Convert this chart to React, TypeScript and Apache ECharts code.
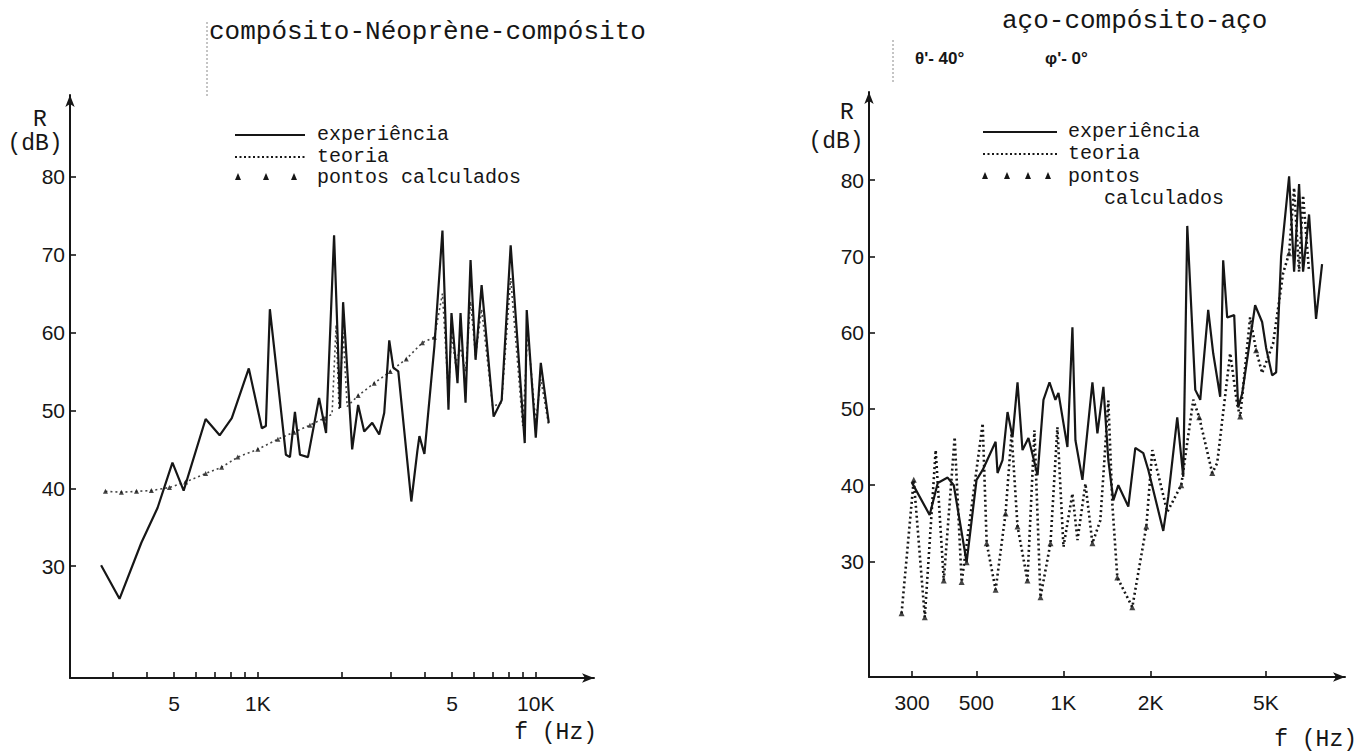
import React, { useEffect, useRef } from "react";
import * as echarts from "echarts";

// ---------- Left chart: compósito-Néoprène-compósito ----------
const leftExpFreq = [273, 318, 381, 436, 493, 541, 649, 729, 806, 928, 1034, 1069, 1105, 1262, 1305, 1360, 1418, 1515, 1661, 1760, 1881, 1977, 2027, 2185, 2296, 2414, 2580, 2734, 2850, 2971, 3072, 3202, 3567, 3750, 3814, 3975, 4319, 4616, 4852, 4975, 5229, 5362, 5589, 5826, 6073, 6385, 7053, 7539, 8123, 9127, 9279, 10000, 10425, 11140];
const leftExpDb = [30.1, 25.8, 33.0, 37.5, 43.3, 39.7, 48.9, 46.8, 49.0, 55.4, 47.7, 48.0, 63.0, 44.3, 44.0, 49.8, 44.3, 44.0, 51.6, 47.1, 72.5, 50.3, 63.9, 45.0, 50.7, 47.3, 48.4, 46.9, 49.7, 59.0, 55.5, 55.0, 38.3, 44.8, 46.7, 44.4, 58.3, 73.1, 50.1, 62.5, 53.5, 62.5, 51.0, 69.3, 56.5, 66.1, 49.2, 51.3, 71.2, 45.8, 62.9, 46.5, 56.1, 48.4];

const leftTheoFreq = [283, 323, 366, 414, 481, 550, 649, 741, 847, 1000, 1181, 1349, 1540, 1730, 1850, 1913, 1961, 2027, 2096, 2296, 2623, 2996, 3421, 3909, 4319, 4616, 4852, 4975, 5143, 5362, 5589, 5826, 6073, 6385, 6995, 7539, 8123, 8976, 9357, 10000, 10425, 11140];
const leftTheoDb = [39.6, 39.5, 39.6, 39.7, 40.1, 40.8, 41.9, 42.7, 44.0, 45.0, 46.3, 47.2, 48.1, 49.0, 49.5, 61.0, 50.0, 60.0, 50.5, 51.9, 53.5, 55.0, 56.6, 58.7, 59.4, 65.0, 52.0, 60.0, 56.0, 58.0, 55.0, 64.0, 57.0, 63.0, 50.5, 51.0, 67.0, 48.0, 60.0, 48.5, 54.0, 48.0];

const leftCalcFreq = [283, 323, 366, 414, 481, 550, 649, 741, 847, 1000, 1181, 1349, 1540, 1730, 2296, 2623, 2996, 3421, 3909, 4319];
const leftCalcDb = [39.6, 39.5, 39.6, 39.7, 40.1, 40.8, 41.9, 42.7, 44.0, 45.0, 46.3, 47.2, 48.1, 49.0, 51.9, 53.5, 55.0, 56.6, 58.7, 59.4];

const leftTickFreq = [300, 400, 500, 600, 700, 800, 900, 1000, 2000, 3000, 4000, 5000, 6000, 7000, 8000, 9000, 10000];
const leftLabelFreq = [500, 1000, 5000, 10000];
const leftLabelText = ["5", "1K", "5", "10K"];

// ---------- Right chart: aço-compósito-aço ----------
const rightExpFreq = [299, 345, 368, 398, 418, 463, 501, 526, 583, 592, 616, 641, 667, 694, 722, 757, 814, 853, 895, 938, 961, 1032, 1074, 1100, 1163, 1259, 1310, 1374, 1429, 1487, 1547, 1675, 1771, 1887, 1964, 2212, 2302, 2472, 2593, 2677, 2853, 2968, 3162, 3290, 3478, 3562, 3677, 3888, 4013, 4142, 4592, 4855, 5012, 5257, 5427, 5647, 6017, 6261, 6514, 6724, 7052, 7455, 7821];
const rightExpDb = [40.4, 36.1, 40.3, 41.0, 40.0, 29.9, 40.7, 42.0, 45.7, 41.6, 43.3, 49.6, 46.3, 53.5, 44.6, 46.2, 41.3, 51.2, 53.5, 51.2, 52.1, 45.0, 60.7, 45.9, 40.7, 53.5, 46.8, 52.9, 43.3, 38.0, 40.0, 37.2, 44.9, 44.2, 42.0, 34.0, 38.5, 48.9, 41.1, 74.0, 52.5, 51.2, 63.0, 57.3, 51.6, 69.5, 62.0, 62.3, 50.2, 52.0, 63.6, 61.4, 58.0, 54.4, 54.8, 70.0, 80.5, 68.0, 79.5, 68.0, 75.5, 61.8, 69.0];

const rightTheoFreq = [276, 304, 332, 362, 386, 421, 445, 526, 543, 583, 631, 662, 694, 751, 794, 833, 902, 953, 1000, 1074, 1118, 1191, 1259, 1341, 1429, 1476, 1535, 1729, 1933, 2027, 2284, 2552, 2808, 2944, 3265, 3396, 3766, 3981, 4077, 4413, 4629, 4855, 5298, 5737, 6017, 6261, 6514, 6724, 7052];
const rightTheoDb = [23.2, 40.7, 22.7, 44.6, 27.5, 46.3, 27.3, 48.1, 32.4, 26.3, 36.3, 46.8, 34.6, 27.5, 47.2, 25.3, 32.4, 47.6, 31.9, 38.9, 32.8, 40.2, 32.4, 35.4, 51.1, 37.4, 27.9, 24.0, 34.6, 44.6, 36.5, 40.0, 51.2, 48.9, 41.6, 42.9, 57.3, 50.6, 49.0, 62.0, 57.7, 54.7, 58.6, 67.8, 70.4, 79.0, 68.0, 78.0, 68.0];

const rightCalcFreq = [276, 304, 332, 386, 445, 463, 543, 583, 631, 694, 751, 833, 902, 1259, 1535, 1729, 1933, 2552, 2944, 3265, 4077, 4629, 6017];
const rightCalcDb = [23.2, 40.7, 22.7, 27.5, 27.3, 29.9, 32.4, 26.3, 36.3, 34.6, 27.5, 25.3, 32.4, 32.4, 27.9, 24.0, 34.6, 40.0, 48.9, 41.6, 49.0, 57.7, 70.4];

const rightTickFreq = [300, 500, 1000, 2000, 5000];
const rightLabelFreq = [300, 500, 1000, 2000, 5000];
const rightLabelText = ["300", "500", "1K", "2K", "5K"];

const yTicks = [30, 40, 50, 60, 70, 80];

const MONO = "'Liberation Mono', 'DejaVu Sans Mono', monospace";
const SANS = "'Liberation Sans', 'DejaVu Sans', sans-serif";
const INK = "#161616";

const zip = (a: number[], b: number[]) => a.map((v, i) => [v, b[i]]);

const labelFor = (values: number[], labels: string[]) => (v: number) => {
  let best = -1;
  let bd = Infinity;
  values.forEach((t, i) => {
    const d = Math.abs(Math.log(v) - Math.log(t));
    if (d < bd) {
      bd = d;
      best = i;
    }
  });
  return bd < 0.02 ? labels[best] : "";
};

const xAxisBase = (grid: number, min: number, max: number, ticks: number[], lv: number[], lt: string[]) => ({
  type: "log",
  logBase: 10,
  gridIndex: grid,
  min,
  max,
  axisLine: {
    show: true,
    lineStyle: { color: INK, width: 2 },
    symbol: ["none", "arrow"],
    symbolSize: [7, 12],
  },
  axisTick: { show: true, inside: true, length: 6, customValues: ticks, lineStyle: { color: INK, width: 1.6 } },
  minorTick: { show: false },
  axisLabel: {
    show: true,
    customValues: lv,
    formatter: labelFor(lv, lt),
    margin: 15,
    fontSize: 21,
    fontFamily: SANS,
    color: INK,
  },
  splitLine: { show: false },
  minorSplitLine: { show: false },
});

const yAxisBase = (grid: number, min: number, max: number) => ({
  type: "value",
  gridIndex: grid,
  min,
  max,
  axisLine: {
    show: true,
    lineStyle: { color: INK, width: 2 },
    symbol: ["none", "arrow"],
    symbolSize: [7, 12],
  },
  axisTick: { show: true, inside: true, length: 6, customValues: yTicks, lineStyle: { color: INK, width: 1.6 } },
  axisLabel: { show: true, customValues: yTicks, margin: 5, fontSize: 21, fontFamily: SANS, color: INK },
  splitLine: { show: false },
});

const txt = (text: string, x: number, y: number, font: string, align = "left") => ({
  type: "text",
  x,
  y,
  silent: true,
  style: { text, font, fill: INK, textAlign: align, textVerticalAlign: "middle", align, verticalAlign: "middle" },
});

const hline = (x1: number, x2: number, y: number, dash?: number[]) => ({
  type: "line",
  silent: true,
  shape: { x1, y1: y, x2, y2: y },
  style: { stroke: INK, lineWidth: 2, lineDash: dash || null },
});

const vdash = (x: number, y1: number, y2: number) => ({
  type: "line",
  silent: true,
  shape: { x1: x, y1, x2: x, y2 },
  style: { stroke: "#8a8a8a", lineWidth: 1, lineDash: [2, 2] },
});

const tri = (x: number, y: number) => ({
  type: "polygon",
  silent: true,
  shape: { points: [[x, y - 4], [x - 3, y + 3], [x + 3, y + 3]] },
  style: { fill: INK },
});

export default function App() {
  const ref = useRef<HTMLDivElement>(null);

  useEffect(() => {
    if (!ref.current) return;
    const chart = echarts.init(ref.current, undefined, { renderer: "svg" });
    const titleFont = `26px ${MONO}`;
    const unitFont = `23px ${MONO}`;
    const legendFont = `20px ${MONO}`;
    const angleFont = `bold 17px ${SANS}`;
    const option = {
      animation: false,
      backgroundColor: "#ffffff",
      grid: [
        { left: 70, top: 95, width: 524, height: 583 },
        { left: 869, top: 92, width: 476, height: 585 },
      ],
      xAxis: [
        xAxisBase(0, 211, 16200, leftTickFreq, leftLabelFreq, leftLabelText),
        xAxisBase(1, 213, 9385, rightTickFreq, rightLabelFreq, rightLabelText),
      ],
      yAxis: [yAxisBase(0, 15.63, 90.51), yAxisBase(1, 14.85, 91.56)],
      series: [
        {
          name: "experiência",
          type: "line",
          xAxisIndex: 0,
          yAxisIndex: 0,
          data: zip(leftExpFreq, leftExpDb),
          symbol: "none",
          lineStyle: { color: INK, width: 2.2 },
          z: 3,
        },
        {
          name: "teoria",
          type: "line",
          xAxisIndex: 0,
          yAxisIndex: 0,
          data: zip(leftTheoFreq, leftTheoDb),
          symbol: "none",
          lineStyle: { color: "#444", width: 1.6, type: [2, 3] },
          z: 2,
        },
        {
          name: "pontos calculados",
          type: "scatter",
          xAxisIndex: 0,
          yAxisIndex: 0,
          data: zip(leftCalcFreq, leftCalcDb),
          symbol: "triangle",
          symbolSize: 5,
          itemStyle: { color: INK },
          z: 4,
        },
        {
          name: "experiência (aço)",
          type: "line",
          xAxisIndex: 1,
          yAxisIndex: 1,
          data: zip(rightExpFreq, rightExpDb),
          symbol: "none",
          lineStyle: { color: INK, width: 2.2 },
          z: 3,
        },
        {
          name: "teoria (aço)",
          type: "line",
          xAxisIndex: 1,
          yAxisIndex: 1,
          data: zip(rightTheoFreq, rightTheoDb),
          symbol: "none",
          lineStyle: { color: INK, width: 2.6, type: [2, 3] },
          z: 2,
        },
        {
          name: "pontos calculados (aço)",
          type: "scatter",
          xAxisIndex: 1,
          yAxisIndex: 1,
          data: zip(rightCalcFreq, rightCalcDb),
          symbol: "triangle",
          symbolSize: 6,
          itemStyle: { color: INK },
          z: 4,
        },
      ],
      graphic: [
        // left chart
        txt("compósito-Néoprène-compósito", 209, 32, titleFont),
        vdash(207, 22, 97),
        txt("R", 40, 120, unitFont, "center"),
        txt("(dB)", 35, 144, unitFont, "center"),
        hline(235, 305, 135),
        txt("experiência", 317, 134, legendFont),
        hline(235, 305, 157, [2, 2.5]),
        txt("teoria", 317, 156, legendFont),
        tri(238, 177),
        tri(266, 177),
        tri(294, 177),
        txt("pontos calculados", 317, 177, legendFont),
        txt("f (Hz)", 597, 733, unitFont, "right"),
        // right chart
        txt("aço-compósito-aço", 1002, 21, titleFont),
        vdash(893, 40, 82),
        txt("θ'- 40°", 915, 58, angleFont),
        txt("φ'- 0°", 1045, 58, angleFont),
        txt("R", 847, 113, unitFont, "center"),
        txt("(dB)", 836, 142, unitFont, "center"),
        hline(983, 1057, 132),
        txt("experiência", 1068, 131, legendFont),
        hline(983, 1057, 154, [2, 2.5]),
        txt("teoria", 1068, 153, legendFont),
        tri(985, 176),
        tri(1007, 176),
        tri(1028, 176),
        tri(1048, 176),
        txt("pontos", 1068, 176, legendFont),
        txt("calculados", 1104, 198, legendFont),
        txt("f (Hz)", 1357, 740, unitFont, "right"),
      ],
    };
    chart.setOption(option as any);
    return () => chart.dispose();
  }, []);

  return (
    <div
      ref={ref}
      style={{ position: "absolute", left: 0, top: 0, width: 1368, height: 753, background: "#fff" }}
    />
  );
}
